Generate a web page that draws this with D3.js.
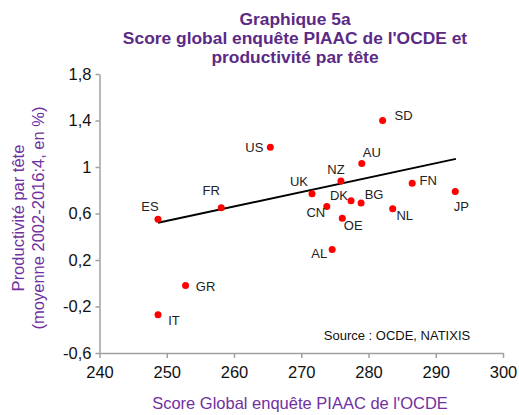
<!DOCTYPE html>
<html>
<head>
<meta charset="utf-8">
<script src="https://cdn.jsdelivr.net/npm/d3@7"></script>
<style>
  body { margin: 0; background: #fff; }
  text { font-family: Arial, "Liberation Sans", sans-serif; }
</style>
</head>
<body>
<svg width="519" height="415"></svg>
<script>
// données
const countries = ["ES", "FR", "US", "UK", "CN", "NZ", "DK", "BG", "OE", "AU", "SD", "NL", "FN", "JP", "AL", "GR", "IT"];
const piaacScore = [248.7, 258.1, 265.4, 271.6, 273.8, 275.9, 277.4, 278.9, 276.1, 279.0, 282.1, 283.6, 286.5, 292.9, 274.6, 252.8, 248.7];
const productivity = [0.55, 0.65, 1.17, 0.77, 0.66, 0.88, 0.71, 0.69, 0.56, 1.03, 1.40, 0.64, 0.86, 0.79, 0.29, -0.02, -0.27];
const trendX = [248.7, 293];
const trendY = [0.52, 1.07];
const xTicks = [240, 250, 260, 270, 280, 290, 300];
const yTicks = [-0.6, -0.2, 0.2, 0.6, 1, 1.4, 1.8];

// décalage des étiquettes (dx, dy, ancrage)
const labelPos = {
  ES: [-8, -8.5, "middle"], FR: [-10, -12.5, "middle"], US: [-7, 5, "end"],
  UK: [-13, -7.5, "middle"], CN: [-11, 10, "middle"], NZ: [-5, -7, "middle"],
  DK: [-12, -1, "middle"], BG: [13, -4.5, "middle"], OE: [11, 11.5, "middle"],
  AU: [10, -7, "middle"], SD: [12, -1, "start"], NL: [12, 11.5, "middle"],
  FN: [16, 1.5, "middle"], JP: [6, 19.5, "middle"], AL: [-13, 8.7, "middle"],
  GR: [20, 5.5, "middle"], IT: [16, 10.5, "middle"]
};

const svg = d3.select("svg");
const purple = "#5b2a86";

const x = d3.scaleLinear().domain([240, 300]).range([99.5, 503]);
const y = d3.scaleLinear().domain([-0.6, 1.8]).range([353, 74]);

const fmt = d => String(d).replace(".", ",");

// titre
const title = ["Graphique 5a", "Score global enquête PIAAC de l'OCDE et", "productivité par tête"];
svg.append("g").selectAll("text")
    .data(title)
    .enter().append("text")
    .attr("x", 295)
    .attr("y", (d, i) => 25 + i * 19)
    .attr("text-anchor", "middle")
    .attr("font-size", 17.4)
    .attr("font-weight", "bold")
    .attr("fill", purple)
    .text(d => d);

// axes
const xAxis = svg.append("g")
    .attr("transform", "translate(0," + y(-0.6) + ")")
    .call(d3.axisBottom(x).tickValues(xTicks).tickSize(5).tickSizeOuter(0).tickFormat(d3.format("d")));
const yAxis = svg.append("g")
    .attr("transform", "translate(" + x(240) + ",0)")
    .call(d3.axisLeft(y).tickValues(yTicks).tickSize(4).tickSizeOuter(0).tickFormat(fmt));

[xAxis, yAxis].forEach(a => {
  a.select(".domain").attr("stroke", "#a0a0a0").attr("stroke-width", 1.5);
  a.selectAll(".tick line").attr("stroke", "#a0a0a0").attr("stroke-width", 1.5);
  a.selectAll(".tick text").attr("fill", "#111").attr("font-size", 16.5).attr("font-family", "Arial, 'Liberation Sans', sans-serif");
});
xAxis.selectAll(".tick text").attr("dy", "1.05em");
yAxis.selectAll(".tick text").attr("x", -8);

// titres des axes
svg.append("text")
    .attr("x", 300)
    .attr("y", 409)
    .attr("text-anchor", "middle")
    .attr("font-size", 16.5)
    .attr("fill", "#7030a0")
    .text("Score Global enquête PIAAC de l'OCDE");

const yTitle = svg.append("text")
    .attr("transform", "translate(0,218) rotate(-90)")
    .attr("text-anchor", "middle")
    .attr("font-size", 16.5)
    .attr("fill", "#7030a0");
yTitle.append("tspan").attr("x", 0).attr("y", 24).text("Productivité par tête");
yTitle.append("tspan").attr("x", 0).attr("y", 44).text("(moyenne 2002-2016:4, en %)");

// source
svg.append("text")
    .attr("x", 397)
    .attr("y", 340)
    .attr("text-anchor", "middle")
    .attr("font-size", 13)
    .attr("fill", "#111")
    .text("Source : OCDE, NATIXIS");

// droite de tendance
const line = d3.line()
    .x(d => x(d[0]))
    .y(d => y(d[1]));
svg.append("path")
    .datum(d3.zip(trendX, trendY))
    .attr("fill", "none")
    .attr("stroke", "#000")
    .attr("stroke-width", 2)
    .attr("d", line);

// points
const pts = countries.map((c, i) => ({ c: c, sx: piaacScore[i], p: productivity[i] }));

svg.append("g").selectAll("circle")
    .data(pts)
    .enter().append("circle")
    .attr("r", 3.5)
    .attr("cx", d => x(d.sx))
    .attr("cy", d => y(d.p))
    .attr("fill", "#ff0000");

svg.append("g").selectAll("text")
    .data(pts)
    .enter().append("text")
    .attr("x", d => x(d.sx) + labelPos[d.c][0])
    .attr("y", d => y(d.p) + labelPos[d.c][1])
    .attr("text-anchor", d => labelPos[d.c][2])
    .attr("font-size", 13)
    .attr("fill", "#222")
    .text(d => d.c);
</script>
</body>
</html>
